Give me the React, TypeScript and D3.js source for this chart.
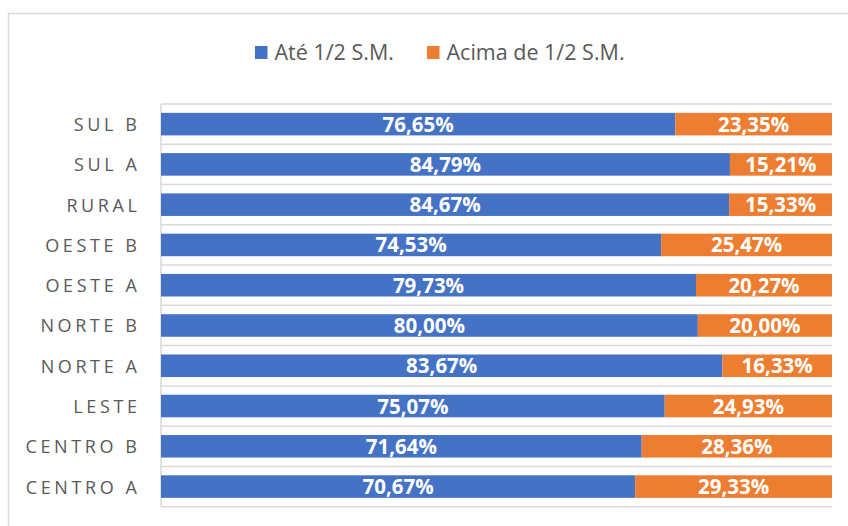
import React from "react";
import * as d3 from "d3";

const categories = ["SUL B", "SUL A", "RURAL", "OESTE B", "OESTE A", "NORTE B", "NORTE A", "LESTE", "CENTRO B", "CENTRO A"];
const ateMeio = [76.65, 84.79, 84.67, 74.53, 79.73, 80.0, 83.67, 75.07, 71.64, 70.67];
const acimaMeio = [23.35, 15.21, 15.33, 25.47, 20.27, 20.0, 16.33, 24.93, 28.36, 29.33];
const seriesNames = ["Até 1/2 S.M.", "Acima de 1/2 S.M."];
const colors = ["#4472C4", "#ED7D31"];

const W = 848;
const H = 526;
const plotLeft = 161;
const plotRight = 832;
const plotTop = 104;
const plotBottom = 506.7;

const fmt = (v: number) => v.toFixed(2).replace(".", ",") + "%";

export default function App() {
  const x = d3.scaleLinear().domain([0, 100]).range([plotLeft, plotRight]);
  const y = d3.scaleBand<string>().domain(categories).range([plotTop, plotBottom]).paddingInner(0.44).paddingOuter(0.22);
  const yGrid = d3.scaleBand<string>().domain(categories).range([plotTop, plotBottom]).padding(0);

  const rows = categories.map((c, i) => ({ cat: c, a: ateMeio[i], b: acimaMeio[i] }));
  const stack = d3.stack<any>().keys(["a", "b"])(rows);

  const legendX = [255, 427];
  const font = "'Open Sans', 'DejaVu Sans', sans-serif";

  return (
    <svg width={W} height={H} style={{ position: "absolute", left: 0, top: 0, background: "#fff" }} fontFamily={font}>
      <rect x={8.5} y={13.5} width={1000} height={1000} fill="#fff" stroke="#D9D9D9" strokeWidth={1.5} />
      {/* legend */}
      {seriesNames.map((n, i) => (
        <g key={n}>
          <rect x={legendX[i]} y={46} width={12.5} height={13} fill={colors[i]} />
          <text x={legendX[i] + 19.5} y={60} fontSize={21.5} fill="#595959">{n}</text>
        </g>
      ))}
      {/* gridlines */}
      {categories.map((c) => (
        <line key={"g" + c} x1={plotLeft} x2={plotRight} y1={yGrid(c)!} y2={yGrid(c)!} stroke="#D9D9D9" strokeWidth={1.5} />
      ))}
      <line x1={plotLeft} x2={plotRight} y1={plotBottom} y2={plotBottom} stroke="#D9D9D9" strokeWidth={1.5} />
      <line x1={plotLeft} x2={plotLeft} y1={plotTop} y2={plotBottom} stroke="#D9D9D9" strokeWidth={1.5} />
      {/* bars */}
      {stack.map((s, si) => (
        <g key={si}>
          {s.map((d: any) => {
            const cat = d.data.cat;
            const x0 = x(d[0]);
            const x1 = x(d[1]);
            const yy = y(cat)!;
            return (
              <g key={cat}>
                <rect x={x0} y={yy} width={x1 - x0} height={y.bandwidth()} fill={colors[si]} />
                <text x={(x0 + x1) / 2} y={yy + y.bandwidth() / 2 + 7.5} textAnchor="middle" fontSize={20.5} fontWeight={700} fill="#fff">
                  {fmt(d[1] - d[0])}
                </text>
              </g>
            );
          })}
        </g>
      ))}
      {/* category labels */}
      {categories.map((c) => (
        <text key={"l" + c} x={137 + 3.5} y={y(c)! + y.bandwidth() / 2 + 7} textAnchor="end" fontSize={18} letterSpacing={3.6} fill="#595959">
          {c}
        </text>
      ))}
    </svg>
  );
}
